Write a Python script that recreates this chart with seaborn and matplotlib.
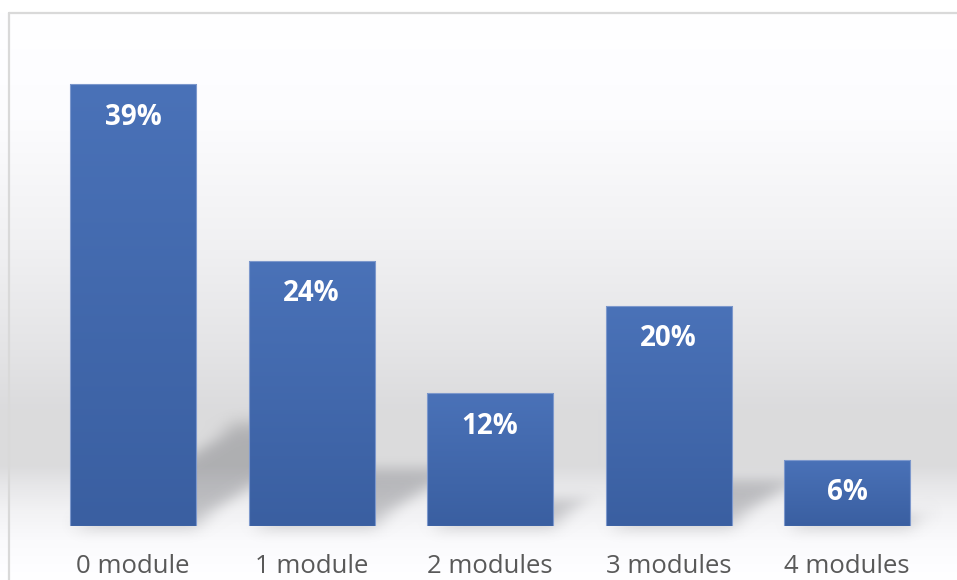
import numpy as np
import pandas as pd
import matplotlib
matplotlib.use("Agg")
import matplotlib.pyplot as plt
import seaborn as sns
from matplotlib.colors import LinearSegmentedColormap
from matplotlib.collections import PolyCollection

# data
categories = ["0 module", "1 module", "2 modules", "3 modules", "4 modules"]
shares = [39.3, 23.6, 11.8, 19.6, 5.9]
bar_labels = [f"{v:.0f}%" for v in shares]

sns.set_theme(style="white")
plt.rcParams["font.family"] = ["Open Sans", "DejaVu Sans"]

W, H = 957, 580
fig = plt.figure(figsize=(W / 100, H / 100), dpi=100)

# background: soft vertical grey gradient + thin frame
bg = fig.add_axes([0, 0, 1, 1])
stop_y = [0, 13, 120, 250, 350, 410, 465, 485, 510, 540, 580]
stop_v = [255, 255, 252, 240, 228, 219, 219, 231, 242, 250, 255]
g = np.interp(np.arange(H), stop_y, stop_v) / 255
grad = np.stack([g, g, np.minimum(g * 1.008, 1)], axis=-1)[:, None, :]
bg.imshow(grad, extent=(0, W, H, 0), aspect="auto", interpolation="bilinear")
bg.plot([9, 9], [13, H], color="#d9d9d9", lw=1.6)
bg.plot([9, W], [13, 13], color="#d9d9d9", lw=1.6)
bg.set_xlim(0, W)
bg.set_ylim(H, 0)
bg.axis("off")

df = pd.DataFrame({"category": categories, "share": shares})

ax = fig.add_axes([9 / W, 54 / H, 948 / W, 513 / H])
ax.patch.set_alpha(0)
sns.barplot(data=df, x="category", y="share", color="#4169b0", saturation=1,
            width=0.706, edgecolor="#7d98cc", linewidth=0.8, ax=ax)
ax.set_xlim(-0.695, 4.616)
ax.set_ylim(0, 45.6)

# px per data unit, used for the shadow shear
p = ax.transData.transform([(0, 0), (1, 1)])
sx, sy = p[1, 0] - p[0, 0], p[1, 1] - p[0, 1]


def soft_blur(im, dpi, sigma=6.0):
    pad = int(3 * sigma)
    src = np.pad(im, ((pad, pad), (pad, pad), (0, 0)))
    r = np.arange(-pad, pad + 1)
    k = np.exp(-0.5 * (r / sigma) ** 2)
    k /= k.sum()
    tmp = np.zeros_like(src)
    for i, kv in zip(r, k):
        tmp += kv * np.roll(src, i, axis=0)
    out = np.zeros_like(src)
    for i, kv in zip(r, k):
        out += kv * np.roll(tmp, i, axis=1)
    return out, -pad, -pad


cmap = LinearSegmentedColormap.from_list("bar", ["#3a5fa1", "#4a72b8"])
shadows = []
for bar in ax.patches:
    x0, w, h = bar.get_x(), bar.get_width(), bar.get_height()
    bar.set_facecolor("none")
    bar.set_zorder(3)
    im = ax.imshow(np.linspace(0, 1, 256)[:, None], cmap=cmap, origin="lower",
                   extent=(x0, x0 + w, 0, h), aspect="auto", zorder=2)
    im.set_clip_path(bar)
    sh = 0.23 * h
    shift = 1.6 * sh * sy / sx
    shadows.append([(x0, 0), (x0 + w, 0), (x0 + w + shift, sh), (x0 + shift, sh)])

shade = PolyCollection(shadows, facecolors=[(0.12, 0.13, 0.16, 0.24)],
                       edgecolors="none", zorder=1)
shade.set_agg_filter(soft_blur)
ax.add_collection(shade)

for bar, lab in zip(ax.patches, bar_labels):
    ax.annotate(lab, (bar.get_x() + bar.get_width() / 2, bar.get_height()),
                xytext=(0, -24), textcoords="offset points",
                ha="center", va="center", color="white",
                fontsize=20, fontweight="bold")

ax.set_xlim(-0.695, 4.616)
ax.set_ylim(0, 45.6)
ax.set_xlabel("")
ax.set_ylabel("")
ax.set_yticks([])
ax.tick_params(axis="x", length=0, pad=20, labelsize=18.5, labelcolor="#595959")
for s in ax.spines.values():
    s.set_visible(False)

fig.savefig("out.png", dpi=100)
